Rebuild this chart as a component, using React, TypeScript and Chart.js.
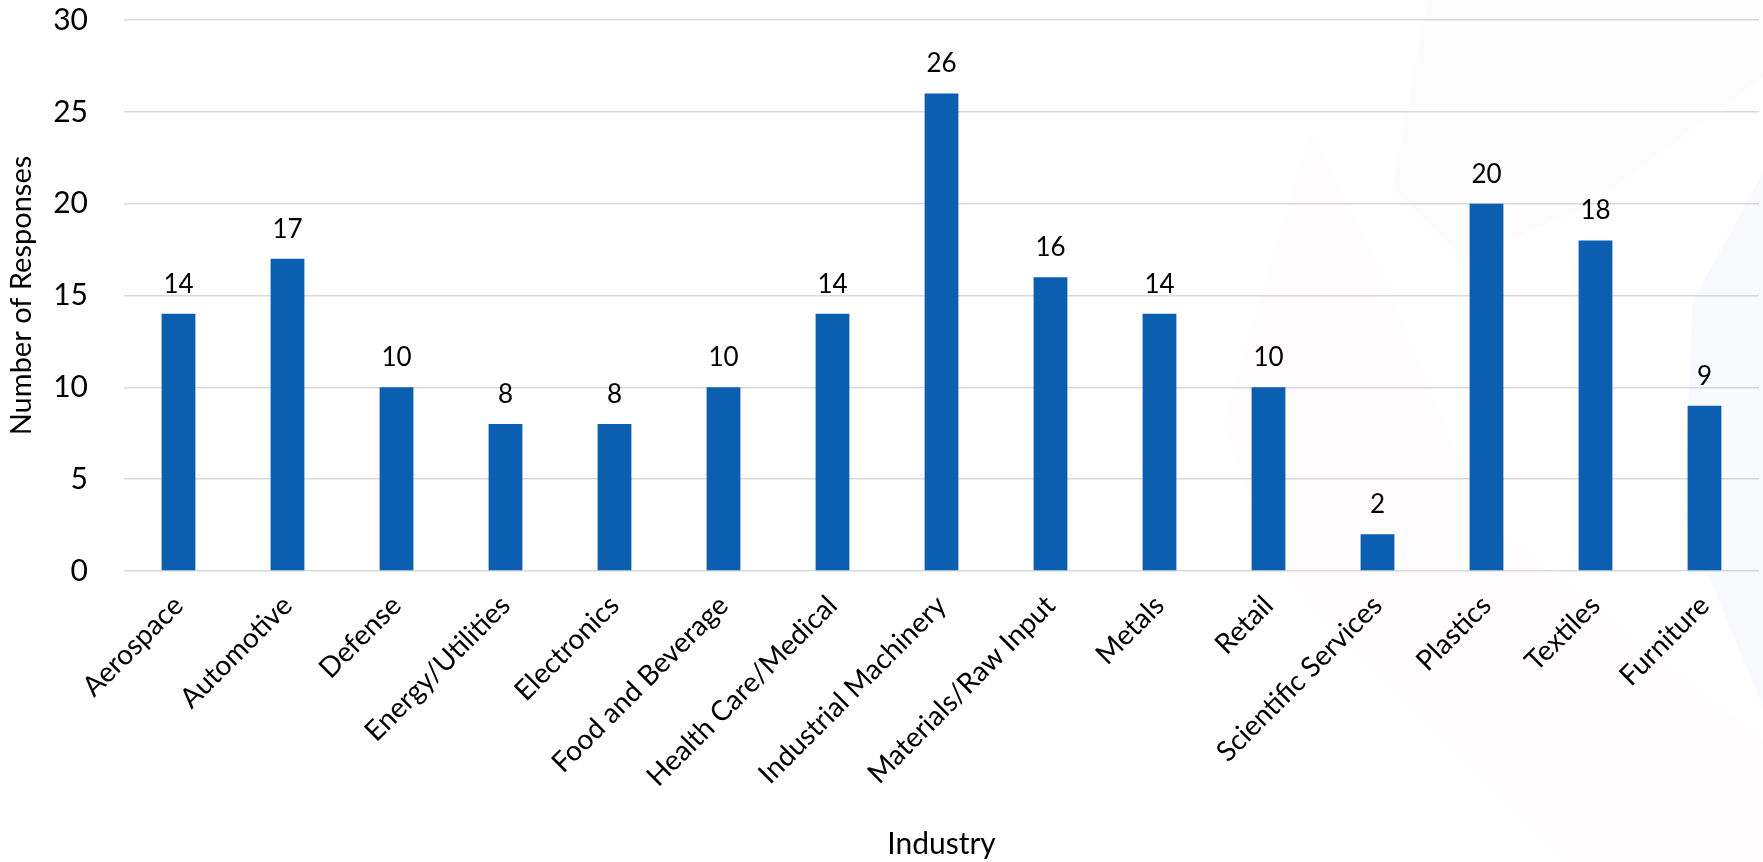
import React, { useEffect, useRef } from "react";
import { Chart, registerables } from "chart.js";

Chart.register(...registerables);

const categories = [
  "Aerospace",
  "Automotive",
  "Defense",
  "Energy/Utilities",
  "Electronics",
  "Food and Beverage",
  "Health Care/Medical",
  "Industrial Machinery",
  "Materials/Raw Input",
  "Metals",
  "Retail",
  "Scientific Services",
  "Plastics",
  "Textiles",
  "Furniture",
];

const responses = [14, 17, 10, 8, 8, 10, 14, 26, 16, 14, 10, 2, 20, 18, 9];

const yTicks = [0, 5, 10, 15, 20, 25, 30];

const FONT = "Lato, 'Open Sans', sans-serif";

const watermarkPlugin = {
  id: "watermark",
  beforeDraw(chart: any) {
    const { ctx, width: w, height: h } = chart;
    const shapes: { color: string; pts: number[][] }[] = [
      {
        color: "rgba(225,110,130,0.025)",
        pts: [
          [0.744, 0.152],
          [0.695, 0.49],
          [0.72, 0.65],
          [0.888, 1.0],
          [1.0, 1.0],
          [1.0, 0.86],
          [0.84, 0.6],
          [0.79, 0.35],
        ],
      },
      {
        color: "rgba(140,165,140,0.035)",
        pts: [
          [0.81, 0.0],
          [1.0, 0.0],
          [1.0, 0.09],
          [0.9, 0.24],
          [0.83, 0.3],
          [0.79, 0.22],
        ],
      },
      {
        color: "rgba(90,140,210,0.04)",
        pts: [
          [1.0, 0.2],
          [0.96, 0.35],
          [0.955, 0.6],
          [1.0, 0.82],
        ],
      },
    ];
    ctx.save();
    for (const s of shapes) {
      ctx.beginPath();
      s.pts.forEach((p, i) => {
        if (i === 0) ctx.moveTo(p[0] * w, p[1] * h);
        else ctx.lineTo(p[0] * w, p[1] * h);
      });
      ctx.closePath();
      ctx.fillStyle = s.color;
      ctx.fill();
    }
    ctx.restore();
  },
};

const valueLabelPlugin = {
  id: "valueLabels",
  afterDatasetsDraw(chart: any) {
    const { ctx } = chart;
    const meta = chart.getDatasetMeta(0);
    const data = chart.data.datasets[0].data as number[];
    ctx.save();
    ctx.font = `26px ${FONT}`;
    ctx.fillStyle = "#000";
    ctx.textAlign = "center";
    ctx.textBaseline = "alphabetic";
    meta.data.forEach((bar: any, i: number) => {
      ctx.fillText(String(data[i]), bar.x, bar.y - 21);
    });
    ctx.restore();
  },
};

export default function App() {
  const canvasRef = useRef<HTMLCanvasElement | null>(null);

  useEffect(() => {
    if (!canvasRef.current) return;
    const chart = new Chart(canvasRef.current, {
      type: "bar",
      data: {
        labels: categories,
        datasets: [
          {
            label: "Number of Responses",
            data: responses,
            backgroundColor: "#0B5EB0",
            borderWidth: 0,
            categoryPercentage: 1,
            barPercentage: 0.31,
          },
        ],
      },
      options: {
        animation: false,
        responsive: true,
        maintainAspectRatio: false,
        layout: { padding: { top: 3, right: 4, left: 0, bottom: 0 } },
        plugins: {
          legend: { display: false },
          tooltip: { enabled: false },
        },
        scales: {
          x: {
            grid: { display: false },
            border: { display: false },
            ticks: {
              autoSkip: false,
              maxRotation: 45,
              minRotation: 45,
              padding: 10,
              color: "#000",
              font: { family: FONT, size: 28 },
            },
            title: {
              display: true,
              text: "Industry",
              color: "#000",
              font: { family: FONT, size: 30 },
              padding: { top: 0, bottom: 0 },
            },
            afterFit: (s: any) => {
              s.height = 291;
            },
          },
          y: {
            min: 0,
            max: 30,
            afterBuildTicks: (s: any) => {
              s.ticks = yTicks.map((v) => ({ value: v }));
            },
            grid: { color: "#d9d9d9", lineWidth: 1.5, drawTicks: false },
            border: { display: false },
            ticks: {
              padding: 36,
              color: "#000",
              font: { family: FONT, size: 30 },
            },
            title: {
              display: true,
              text: "Number of Responses",
              color: "#000",
              font: { family: FONT, size: 29 },
              padding: { top: 4, bottom: 0 },
            },
            afterFit: (s: any) => {
              s.width = 124;
              s.paddingTop = 20;
              s.paddingBottom = 18;
            },
          },
        },
      },
      plugins: [watermarkPlugin, valueLabelPlugin],
    });
    return () => chart.destroy();
  }, []);

  return (
    <div style={{ position: "absolute", left: 0, top: 0, width: 1763, height: 862, background: "#fff" }}>
      <canvas ref={canvasRef} />
    </div>
  );
}
